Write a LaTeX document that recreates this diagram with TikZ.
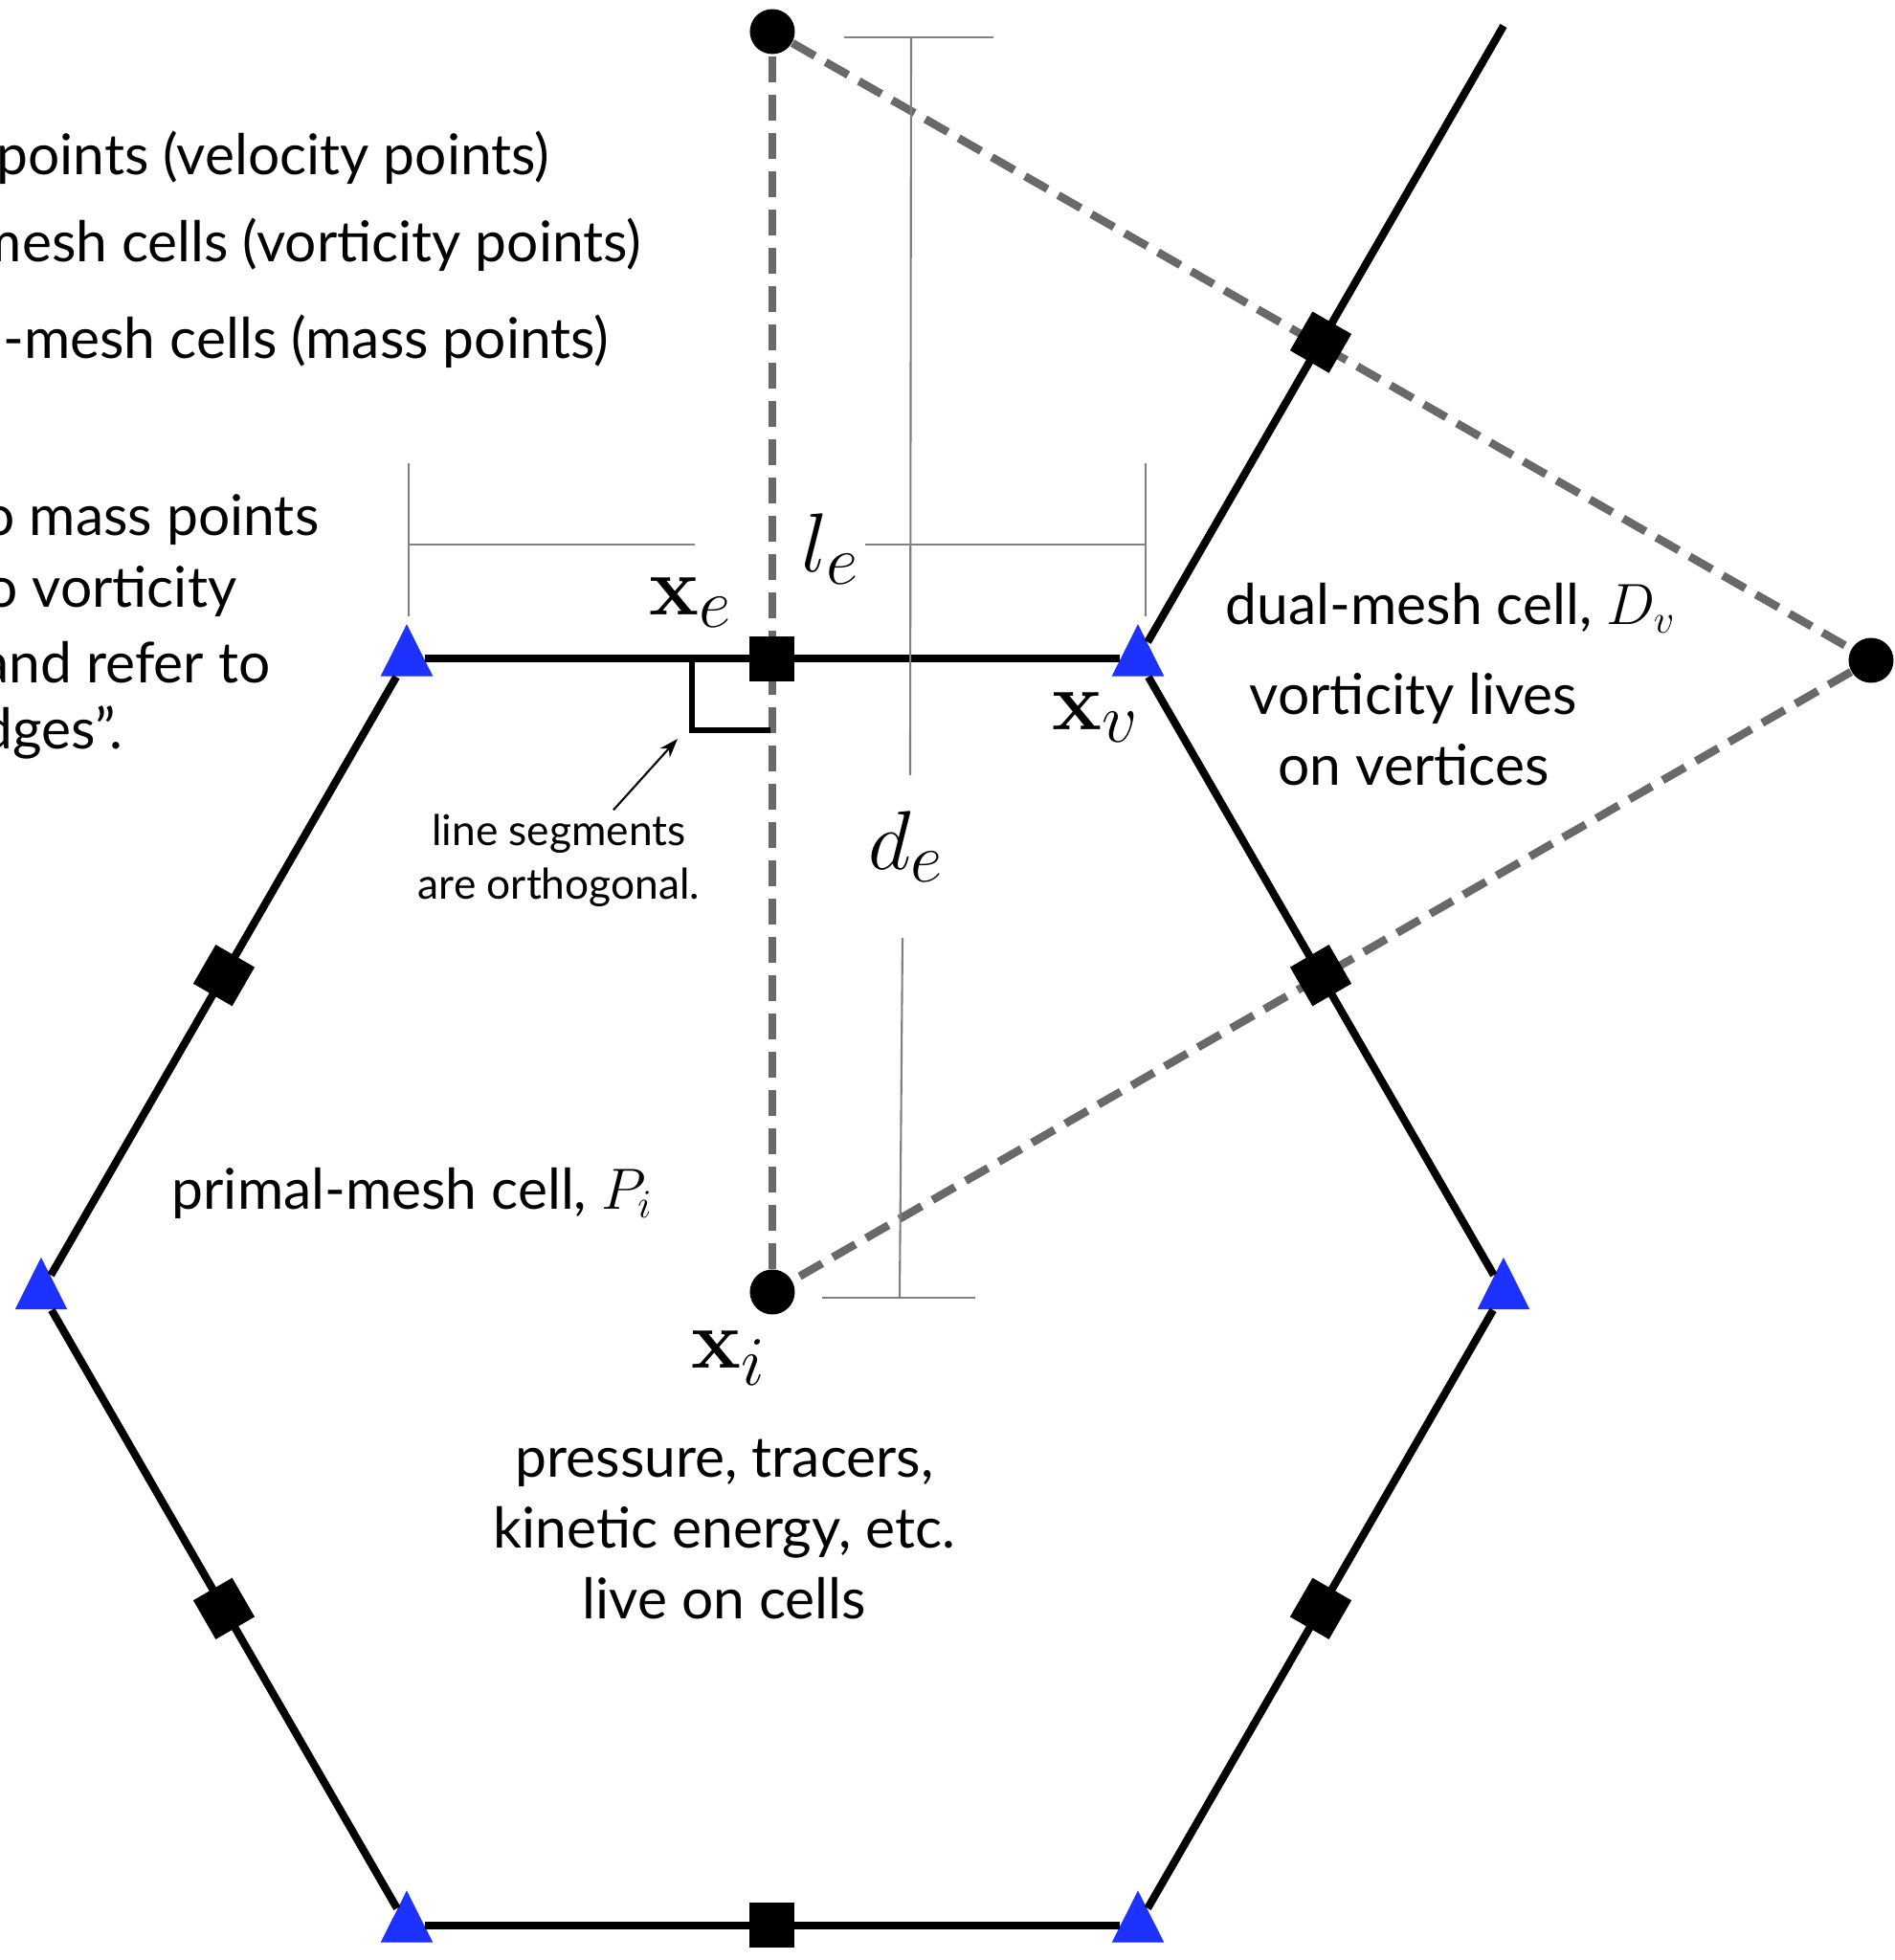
\documentclass[tikz,border=0pt]{standalone}
\usepackage[no-math]{fontspec}
\setmainfont{Lato}
\usetikzlibrary{shapes.geometric,arrows.meta}

\definecolor{vertblue}{RGB}{30,50,255}
\definecolor{dualgray}{RGB}{105,105,105}
\definecolor{dimgray}{RGB}{128,128,128}

\tikzset{
  bigtext/.style={font=\fontsize{16.7}{21}\selectfont,align=center},
  smalltext/.style={font=\fontsize{12.6}{16}\selectfont,align=center,inner sep=1pt},
  mathlabel/.style={font=\fontsize{31}{34}\selectfont},
  meshline/.style={line width=2.3pt},
  dualline/.style={draw=dualgray,line width=2.4pt,dash pattern=on 0.27cm off 0.13cm},
  dimline/.style={draw=dimgray,line width=0.6pt}
}

\begin{document}
\begin{tikzpicture}

        \useasboundingbox (-8.07,-6.98) rectangle (11.73,13.5);

        \begin{scope}[every node/.style={circle,fill=black,inner sep=0pt,minimum size=0.47cm}]
          \node (c1) at (0,0)        {};
          \node (c2) at (0,13.17)    {};
          \node (c3) at (11.48,6.6)  {};
        \end{scope}

        \begin{scope}[every edge/.style={dualline}]
          \path (c1) edge (c2);
          \path (c2) edge (c3);
          \path (c3) edge (c1);
        \end{scope}

        \begin{scope}[every node/.style={regular polygon,regular polygon sides=3,fill=vertblue,inner sep=0pt,minimum size=0.63cm,yscale=1.15}]
          \node (v1) at (7.64,0)       {};
          \node (v2) at (3.82,6.616)   {};
          \node (v3) at (-3.82,6.616)  {};
          \node (v4) at (-7.64,0)      {};
          \node (v5) at (-3.82,-6.616) {};
          \node (v6) at (3.82,-6.616)  {};
        \end{scope}
        \coordinate (v7) at (7.64,13.23);

        \begin{scope}[every node/.style={rectangle,fill=black,inner sep=0pt,minimum size=0.47cm}]
          \node[rotate=30] (e1) at (5.73,3.308)   {};
          \node            (e2) at (0,6.616)      {};
          \node[rotate=60] (e3) at (-5.73,3.308)  {};
          \node[rotate=30] (e4) at (-5.73,-3.308) {};
          \node            (e5) at (0,-6.616)     {};
          \node[rotate=60] (e6) at (5.73,-3.308)  {};
          \node[rotate=60] (e7) at (5.73,9.924)   {};
        \end{scope}

        \begin{scope}[every edge/.style={draw,meshline}]
          \path (v1) edge (v2);
          \path (v2) edge (v3);
          \path (v3) edge (v4);
          \path (v4) edge (v5);
          \path (v5) edge (v6);
          \path (v6) edge (v1);
          \path (v2) edge (v7);
        \end{scope}

        \draw[line width=1.8pt] (-0.84,6.616) |- (-0.02,5.87);
        \coordinate (corner) at (-0.99,5.78);

        \draw[dimline] (-3.80,8.66) -- (-3.80,7.06);
        \draw[dimline] (3.90,8.66)  -- (3.90,7.06);
        \draw[dimline] (-3.80,7.81) -- (-0.81,7.81);
        \draw[dimline] (0.97,7.81)  -- (3.90,7.81);
        \draw[dimline] (0.75,13.11) -- (2.31,13.11);
        \draw[dimline] (1.45,13.11) -- (1.44,5.40);
        \draw[dimline] (1.36,3.70)  -- (1.33,-0.06);
        \draw[dimline] (0.52,-0.06) -- (2.12,-0.06);

        \begin{scope}[every node/.style={mathlabel}]
          \node (xe) at (-0.85,7.2)  {$\mathbf{x}_e$};
          \node (le) at (0.61,7.76)  {$l_e$};
          \node (xv) at (3.38,6.0)   {$\mathbf{x}_v$};
          \node (de) at (1.40,4.65)  {$d_e$};
          \node (xi) at (-0.45,-0.69) {$\mathbf{x}_i$};
        \end{scope}

        \node[smalltext] (note) at (-2.23,4.51) {line segments\\are orthogonal.};
        \draw[-{Stealth[length=0.2cm,width=0.14cm]},line width=0.6pt] ([xshift=0.57cm]note.north) -- (corner);

        \node[bigtext] (dual)     at (7.09,7.15)   {dual-mesh cell, $D_v$};
        \node[bigtext] (vortlive) at (6.70,5.88)   {vorticity lives\\on vertices};
        \node[bigtext] (primal)   at (-3.76,1.03)  {primal-mesh cell, $P_i$};
        \node[bigtext] (celllive) at (-0.50,-2.48) {pressure, tracers,\\kinetic energy, etc.\\live on cells};

        \begin{scope}[every node/.style={bigtext,anchor=east,inner sep=0pt}]
          \node (pt1) at (-2.32,11.85) {points (velocity points)};
          \node (pt2) at (-1.36,10.94) {mesh cells (vorticity points)};
          \node (pt3) at (-1.70,9.93)  {-mesh cells (mass points)};
          \node (gl1) at (-4.73,8.07)  {o mass points};
          \node (gl2) at (-5.59,7.32)  {o vorticity};
          \node (gl3) at (-5.24,6.58)  {and refer to};
          \node (gl4) at (-6.78,5.85)  {dges”.};
        \end{scope}

      \end{tikzpicture}
\end{document}
